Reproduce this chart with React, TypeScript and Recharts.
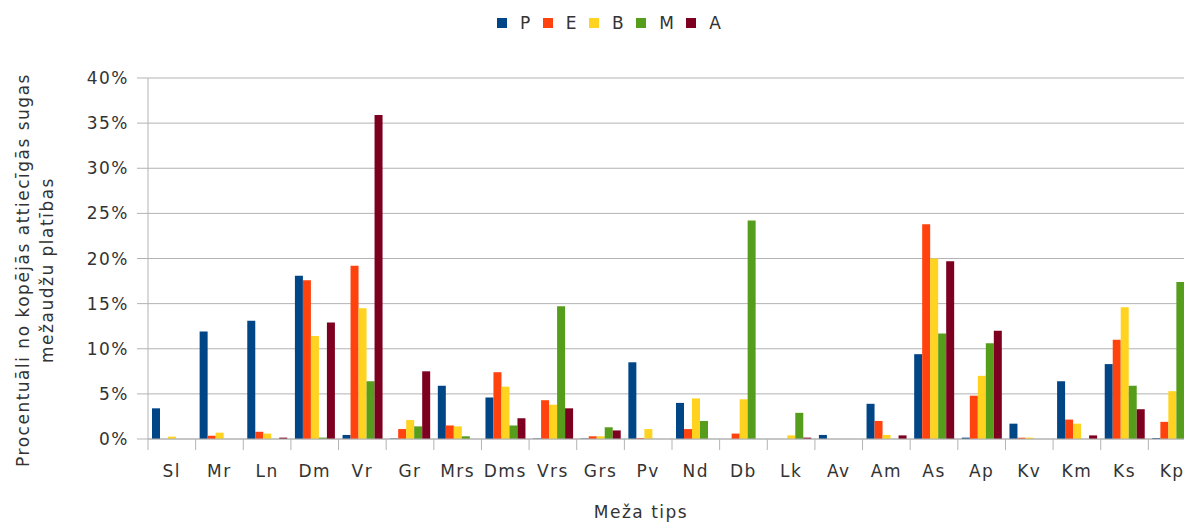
import { Bar, BarChart, CartesianGrid, XAxis, YAxis } from "recharts";

const categories = ["Sl", "Mr", "Ln", "Dm", "Vr", "Gr", "Mrs", "Dms", "Vrs", "Grs", "Pv", "Nd", "Db", "Lk", "Av", "Am", "As", "Ap", "Kv", "Km", "Ks", "Kp"];

const seriesP = [3.4, 11.9, 13.1, 18.1, 0.45, 0.05, 5.9, 4.6, 0.05, 0.05, 8.5, 4.0, 0, 0, 0.45, 3.9, 9.4, 0.15, 1.7, 6.4, 8.3, 0.1];
const seriesE = [0, 0.36, 0.8, 17.6, 19.2, 1.1, 1.5, 7.4, 4.3, 0.3, 0.1, 1.1, 0.6, 0, 0, 2.0, 23.8, 4.8, 0.15, 2.15, 11.0, 1.9];
const seriesB = [0.26, 0.7, 0.6, 11.4, 14.5, 2.1, 1.4, 5.8, 3.8, 0.3, 1.1, 4.5, 4.4, 0.4, 0, 0.45, 20.0, 7.0, 0.15, 1.7, 14.6, 5.3];
const seriesM = [0, 0, 0, 0.15, 6.4, 1.4, 0.3, 1.5, 14.7, 1.3, 0, 2.0, 24.2, 2.9, 0, 0, 11.7, 10.6, 0, 0, 5.9, 17.4];
const seriesA = [0, 0, 0.15, 12.9, 35.9, 7.5, 0, 2.3, 3.4, 0.95, 0, 0, 0, 0.15, 0, 0.4, 19.7, 12.0, 0, 0.4, 3.3, 0];

const yTicks = [0, 5, 10, 15, 20, 25, 30, 35, 40];

const series = [
  { key: "P", values: seriesP, color: "#004586" },
  { key: "E", values: seriesE, color: "#ff420e" },
  { key: "B", values: seriesB, color: "#ffd320" },
  { key: "M", values: seriesM, color: "#579d1c" },
  { key: "A", values: seriesA, color: "#7e0021" },
];

const data = categories.map((name, i) => {
  const row: Record<string, string | number> = { name };
  series.forEach((s) => (row[s.key] = s.values[i]));
  return row;
});

const FONT = "'DejaVu Sans', sans-serif";
const TEXT = "#333333";
const GRID = "#b3b3b3";
const SPACING = 1.5;

// the plot runs past the right edge of the picture, as in the original
const CHART_W = 1210;
const PLOT_LEFT = 148;
const PLOT_RIGHT = 1196;
const HALF_BAND = (PLOT_RIGHT - PLOT_LEFT) / categories.length / 2;

function CategoryTick(props: any) {
  const { x, y, payload } = props;
  return (
    <g>
      <line x1={x - HALF_BAND} x2={x - HALF_BAND} y1={y} y2={y + 11} stroke={GRID} />
      <text x={x} y={y + 38} textAnchor="middle" fill={TEXT} fontSize={17} fontFamily={FONT} letterSpacing={SPACING}>
        {payload.value}
      </text>
    </g>
  );
}

function YTitle() {
  return (
    <g fontFamily={FONT} fontSize={17} fill={TEXT} letterSpacing={SPACING}>
      <text x={0} y={0} transform="translate(29,270) rotate(-90)" textAnchor="middle">
        Procentuāli no kopējās attiecīgās sugas
      </text>
      <text x={0} y={0} transform="translate(53,270) rotate(-90)" textAnchor="middle">
        mežaudžu platības
      </text>
    </g>
  );
}

function XTitle() {
  return (
    <text x={641} y={518} textAnchor="middle" fontFamily={FONT} fontSize={17} fill={TEXT} letterSpacing={SPACING}>
      Meža tips
    </text>
  );
}

export default function App() {
  return (
    <div
      style={{
        position: "fixed",
        left: 0,
        top: 0,
        width: 1184,
        height: 522,
        overflow: "hidden",
        background: "#fff",
      }}
    >
      <div
        style={{
          position: "absolute",
          top: 13,
          left: 497,
          display: "flex",
          alignItems: "center",
          fontFamily: FONT,
          fontSize: 17,
          letterSpacing: SPACING,
          color: TEXT,
          zIndex: 2,
        }}
      >
        {series.map((s) => (
          <div key={s.key} style={{ display: "flex", alignItems: "center", marginRight: 11 }}>
            <span style={{ width: 10, height: 10, background: s.color, marginRight: 13, display: "inline-block" }} />
            <span>{s.key}</span>
          </div>
        ))}
      </div>
      <BarChart
        width={CHART_W}
        height={522}
        data={data}
        margin={{ top: 78, right: CHART_W - PLOT_RIGHT, bottom: 0, left: 0 }}
        barCategoryGap={4}
        barGap={0}
      >
        <CartesianGrid vertical={false} stroke={GRID} />
        <XAxis
          dataKey="name"
          height={83}
          tickLine={false}
          tickSize={0}
          tickMargin={0}
          axisLine={{ stroke: GRID }}
          tick={<CategoryTick />}
          interval={0}
          label={{ content: () => <XTitle /> }}
        />
        <YAxis
          width={PLOT_LEFT}
          domain={[0, 40]}
          ticks={yTicks}
          tickFormatter={(v: number) => `${v}%`}
          tickSize={11}
          tickMargin={8}
          tickLine={{ stroke: GRID }}
          axisLine={{ stroke: GRID }}
          tick={{ fill: TEXT, fontSize: 17, fontFamily: FONT, letterSpacing: SPACING }}
          label={{ content: () => <YTitle /> }}
        />
        {series.map((s) => (
          <Bar key={s.key} dataKey={s.key} fill={s.color} isAnimationActive={false} />
        ))}
      </BarChart>
    </div>
  );
}
